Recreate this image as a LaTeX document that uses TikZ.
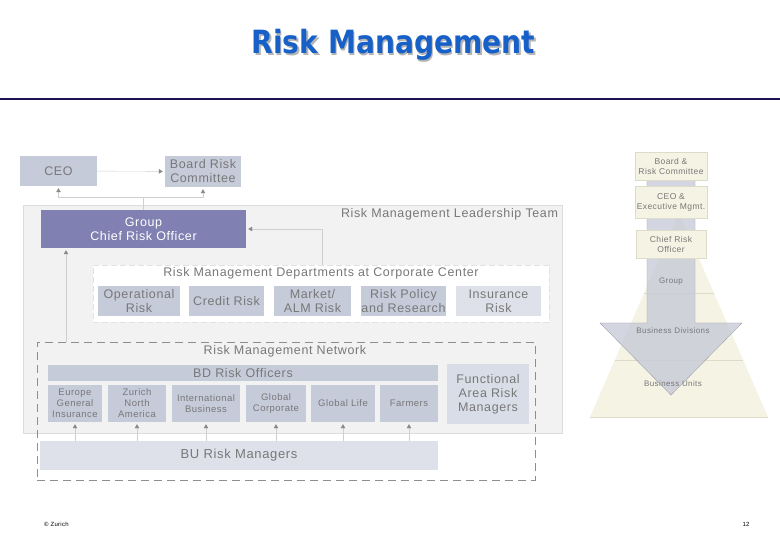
\documentclass[tikz,border=0pt]{standalone}
\usepackage{fontspec}
\setmainfont[LetterSpace=5]{Liberation Sans}
\newfontfamily\titlefont[FakeStretch=0.88]{DejaVu Sans}
\usetikzlibrary{arrows.meta}
\definecolor{titleblue}{HTML}{1660C8}
\definecolor{shadowgray}{HTML}{B4B4B4}
\definecolor{navy}{HTML}{1C1456}
\definecolor{boxblue}{HTML}{C6CBDA}
\definecolor{paleblue}{HTML}{DEE1EA}
\definecolor{crofill}{HTML}{8080B2}
\definecolor{txtgray}{HTML}{787878}
\definecolor{leadfill}{HTML}{F2F2F2}
\definecolor{leadline}{HTML}{DCDCDC}
\definecolor{dashgray}{HTML}{8E8E8E}
\definecolor{deptdash}{HTML}{E2E2E2}
\definecolor{linkgray}{HTML}{CFCFCF}
\definecolor{tipgray}{HTML}{8A8A8A}
\definecolor{creamfill}{HTML}{F4F3E4}
\definecolor{creamline}{HTML}{DDDCCB}
\definecolor{arrowfill}{HTML}{C8CAD8}
\definecolor{arrowline}{HTML}{A0A0AC}
\begin{document}
\begin{tikzpicture}[x=1pt, y=-1pt,
box/.style={fill=boxblue, text=txtgray, align=center, inner sep=0pt, font=\fontsize{12.5}{14}\selectfont},
smallbox/.style={box, font=\fontsize{9.5}{11}\selectfont},
label/.style={text=txtgray, inner sep=0pt, font=\fontsize{12.5}{14}\selectfont},
cream/.style={fill=creamfill, draw=creamline, text=txtgray, align=center, inner sep=0pt, font=\fontsize{8.5}{10}\selectfont},
arrow/.style={-{Triangle[length=4pt,width=4.5pt,color=tipgray]}, draw=linkgray, shorten >=2pt},
titlefnt/.style={font=\titlefont\bfseries\fontsize{32}{36}\selectfont}
]
\useasboundingbox (0,0) rectangle (780,540);
% title
\node[titlefnt, text=shadowgray] (titleshadow) at (395,46.5) {Risk Management};
\node[titlefnt, text=titleblue] (title) at (393.5,45) {Risk Management};
\draw[navy, line width=2.5pt] (0,99) -- (780,99);

% top of the organisation
\node[box, minimum width=77pt, minimum height=30pt] (ceo) at (58.5,171) {CEO};
\node[box, minimum width=76pt, minimum height=31pt] (board) at (203,171.5) {Board Risk\\Committee};
\node[draw=leadline, fill=leadfill, minimum width=539pt, minimum height=228pt, inner sep=0pt] (lead) at (292.5,319) {};
\node[label, anchor=north east] (leadlabel) at ([xshift=-4pt,yshift=-3pt]lead.north east) {Risk Management Leadership Team};
\node[box, fill=crofill, text=white, minimum width=205pt, minimum height=38pt] (cro) at (143.5,229) {Group\\Chief Risk Officer};

% departments at corporate center
\node[draw=deptdash, fill=white, dash pattern=on 6pt off 3pt, minimum width=456pt, minimum height=57pt, inner sep=0pt] (depts) at (321,293.5) {};
\node[label] (deptlabel) at (321,273.5) {Risk Management Departments at Corporate Center};
\node[box, minimum width=82pt, minimum height=30pt] (oprisk) at (139,301) {Operational\\Risk};
\node[box, minimum width=75pt, minimum height=30pt] (credit) at (226.5,301) {Credit Risk};
\node[box, minimum width=77pt, minimum height=30pt] (market) at (312.5,301) {Market/\\ALM Risk};
\node[box, minimum width=85pt, minimum height=30pt] (policy) at (403.5,301) {Risk Policy\\and Research};
\node[box, fill=paleblue, minimum width=85pt, minimum height=30pt] (insurance) at (498.5,301) {Insurance\\Risk};

% risk management network
\node[draw=dashgray, dash pattern=on 8pt off 5pt, minimum width=498pt, minimum height=138pt, inner sep=0pt] (network) at (286,411) {};
\node[label] (netlabel) at (285,351.5) {Risk Management Network};
\node[box, minimum width=390pt, minimum height=16pt] (bdo) at (243,373) {BD Risk Officers};
\node[smallbox, minimum width=54pt, minimum height=37pt] (europe) at (75,403.5) {Europe\\General\\Insurance};
\node[smallbox, minimum width=58pt, minimum height=37pt] (zna) at (137,403.5) {Zurich\\North\\America};
\node[smallbox, minimum width=68pt, minimum height=37pt] (intl) at (206,403.5) {International\\Business};
\node[smallbox, minimum width=60pt, minimum height=37pt] (gc) at (276,403.5) {Global\\Corporate};
\node[smallbox, minimum width=64pt, minimum height=37pt] (life) at (343,403.5) {Global Life};
\node[smallbox, minimum width=58pt, minimum height=37pt] (farmers) at (409,403.5) {Farmers};
\node[box, fill=paleblue!80!boxblue, minimum width=82pt, minimum height=60pt] (func) at (488,394) {Functional\\Area Risk\\Managers};
\node[box, fill=paleblue, font=\fontsize{13}{15}\selectfont, minimum width=398pt, minimum height=29pt] (bu) at (239,455.5) {BU Risk Managers};

% reporting lines
\coordinate (crotop) at (143.5,197);
\draw[arrow] (cro.north) -- (crotop) -| (ceo.south);
\draw[arrow] (crotop) -| (board.south);
\draw[arrow] (ceo) -- (board);
\coordinate (deptlink) at (322,265);
\draw[arrow] (deptlink) |- (cro.east);
\coordinate (netlink) at (66,342);
\draw[arrow] (netlink) -- (netlink |- cro.south);
\draw[arrow] (bu.north -| europe) -- (europe.south);
\draw[arrow] (bu.north -| zna) -- (zna.south);
\draw[arrow] (bu.north -| intl) -- (intl.south);
\draw[arrow] (bu.north -| gc) -- (gc.south);
\draw[arrow] (bu.north -| life) -- (life.south);
\draw[arrow] (bu.north -| farmers) -- (farmers.south);

% pyramid with the cascade arrow
\fill[creamfill] (679,213) -- (768,417) -- (590,417) -- cycle;
\draw[creamline] (644,293) -- (714,293);
\draw[creamline] (615,360) -- (743,360);
\draw[creamline] (590,417) -- (768,417);
\filldraw[fill=arrowfill, draw=arrowline, fill opacity=0.8] (647,170) -- (695,170) -- (695,323) -- (742,323) -- (671,395) -- (600,323) -- (647,323) -- cycle;
\node[cream, minimum width=72pt, minimum height=28pt] (rboard) at (671,166) {Board \&\\Risk Committee};
\node[cream, minimum width=72pt, minimum height=32pt] (rceo) at (671,202) {CEO \&\\Executive Mgmt.};
\node[cream, minimum width=70pt, minimum height=28pt] (rcro) at (671,244) {Chief Risk\\Officer};
\node[text=txtgray, inner sep=0pt, font=\fontsize{8}{9}\selectfont] (group) at (671,282) {Group};
\node[text=txtgray, inner sep=0pt, font=\fontsize{8}{9}\selectfont] (divisions) at (673,331) {Business Divisions};
\node[text=txtgray, inner sep=0pt, font=\fontsize{8}{9}\selectfont] (units) at (673,384) {Business Units};

% footer
\node[anchor=west, inner sep=0pt, font=\fontsize{6}{7}\selectfont] (copy) at (44,524) {\textcopyright\ Zurich};
\node[inner sep=0pt, font=\fontsize{6}{7}\selectfont] (page) at (746,524) {12};
\end{tikzpicture}
\end{document}
